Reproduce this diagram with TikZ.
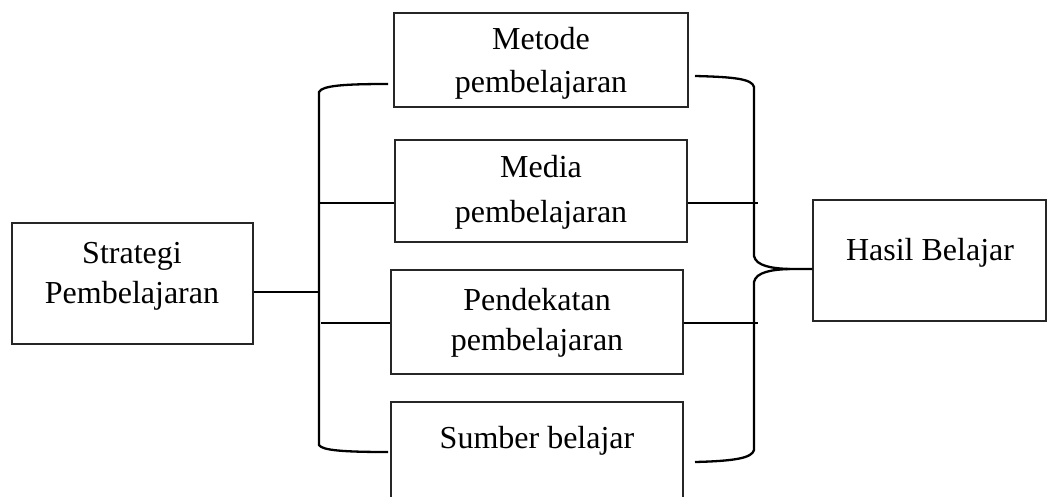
\documentclass[tikz,border=0pt]{standalone}
\usepackage{fontspec}
\setmainfont{Liberation Serif}
\begin{document}
\begin{tikzpicture}[x=1pt,y=-1pt,
  box/.style={draw=black!85, line width=1.3pt, inner sep=0pt, rectangle},
  lbl/.style={anchor=base, inner sep=0pt, align=center, font=\fontsize{32}{40}\selectfont},
  conn/.style={line width=2.3pt, black, line cap=butt}]
\useasboundingbox (0,0) rectangle (1048,497);
\clip (0,0) rectangle (1048,497);
% boxes
\node[box, minimum width=241pt, minimum height=121pt] (strat) at (132.5,283.5) {};
\node[box, minimum width=294pt, minimum height=94pt] (metode) at (541,60) {};
\node[box, minimum width=292pt, minimum height=102pt] (media) at (541,191) {};
\node[box, minimum width=292pt, minimum height=104pt] (pendek) at (537,322) {};
\node[box, minimum width=292pt, minimum height=118pt] (sumber) at (537,461) {};
\node[box, minimum width=233pt, minimum height=121pt] (hasil) at (929.5,260.5) {};
% labels (base anchor = baseline of last line)
\node[lbl] (tstrat) at (132,303) {Strategi\\Pembelajaran};
\node[lbl] (tmetode) at (541,93) {Metode\\[3pt]pembelajaran};
\node[lbl] (tmedia) at (541,222) {Media\\[4pt]pembelajaran};
\node[lbl] (tpendek) at (537,350) {Pendekatan\\pembelajaran};
\node[lbl] (tsumber) at (537,448) {Sumber belajar};
\node[lbl] (thasil) at (930,260) {Hasil Belajar};
% junction coordinates
\coordinate (lj) at (319,292);
\coordinate (lt) at (388,84);
\coordinate (lb) at (388,452);
\coordinate (rt) at (695,76);
\coordinate (rb) at (695,462);
\coordinate (rm) at (790,269);
\coordinate (rx1) at (758,203);
\coordinate (rx2) at (758,323);
\coordinate (lx1) at (319,203);
\coordinate (lx2) at (321,323);
% left bracket
\draw[conn] (lt) .. controls (345,84) and (322,85.5) .. (319,92) -- (319,445)
  .. controls (322,450.5) and (345,452) .. (lb);
\draw[conn] (strat.east |- lj) -- (lj);
\draw[conn] (lx1) -- (media.west |- lx1);
\draw[conn] (lx2) -- (pendek.west |- lx2);
% right bracket
\draw[conn] (rt) .. controls (735,77) and (752,79) .. (754,87) -- (754,256)
  .. controls (756,266) and (772,268.5) .. (rm) -- (hasil.west |- rm);
\draw[conn] (rm) .. controls (772,269.5) and (756,272) .. (754,282) -- (754,450)
  .. controls (752,458) and (735,461) .. (rb);
\draw[conn] (media.east |- rx1) -- (rx1);
\draw[conn] (pendek.east |- rx2) -- (rx2);
\end{tikzpicture}
\end{document}
